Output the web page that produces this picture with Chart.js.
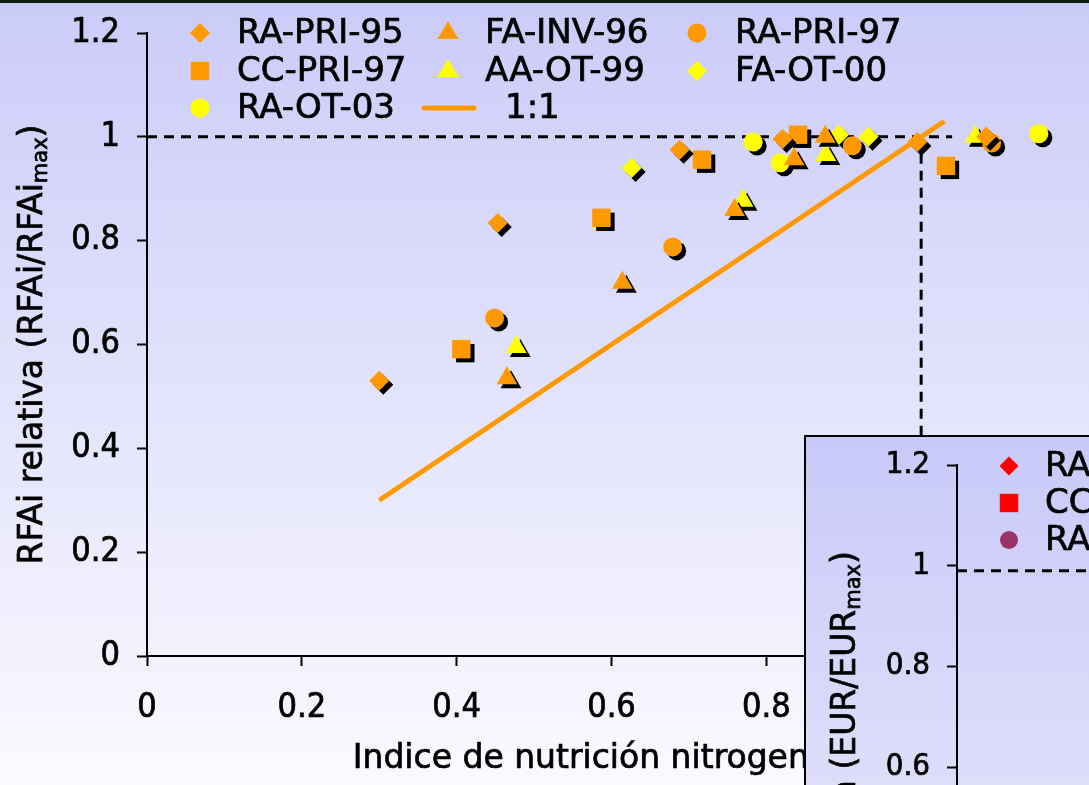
<!DOCTYPE html>
<html>
<head>
<meta charset="utf-8">
<script src="https://cdn.jsdelivr.net/npm/chart.js@4.4.0/dist/chart.umd.min.js"></script>
<style>
  html, body { margin: 0; padding: 0; overflow: hidden; }
  body { width: 1089px; height: 785px; position: relative; background: linear-gradient(#cbcbf9, #fafaff); }
  #topline { position: absolute; left: 0; top: 0; width: 1089px; height: 3px; background: #0d1f0d; }
  #main { position: absolute; left: 0; top: 0; }
  #inset-box { position: absolute; left: 804px; top: 435px; width: 420px; height: 420px; overflow: hidden;
               border-top: 2px solid #000; border-left: 2px solid #000; background: linear-gradient(#c9c9f9, #e2e2fb); }
  #inset { position: absolute; left: 0; top: 0; }
</style>
</head>
<body>
<canvas id="main" width="1089" height="785"></canvas>
<div id="topline"></div>
<div id="inset-box"><canvas id="inset" width="780" height="700"></canvas></div>
<script>
// INN vs relative RFAi, one [x, y] pair per plot
const raPri95 = [[0.300, 0.530], [0.453, 0.834], [0.688, 0.975], [0.821, 0.996], [0.995, 0.990], [1.084, 1.000]];
const faInv96 = [[0.465, 0.535], [0.614, 0.719], [0.759, 0.859], [0.836, 0.957], [0.876, 1.000]];
const raPri97 = [[0.449, 0.651], [0.679, 0.788], [0.911, 0.983], [1.091, 0.988]];
const ccPri97 = [[0.406, 0.591], [0.587, 0.844], [0.717, 0.956], [0.841, 1.004], [1.032, 0.944]];
const aaOt99 = [[0.477, 0.595], [0.770, 0.877], [0.877, 0.965], [1.070, 1.000]];
const faOt00 = [[0.626, 0.940], [0.894, 1.004], [0.932, 1.000]];
const raOt03 = [[0.783, 0.990], [0.818, 0.950], [1.152, 1.006]];
const oneToOne = [[0.30, 0.30], [1.03, 1.03]];
const refH = [[0, 1], [1.04, 1]];
const refV = [[1, 1], [1, 0]];

// second plot (relative EUR)
const eurRaPri95 = [];
const eurCcPri97 = [];
const eurRaPri97 = [];
const eurRef = [[0, 0.99], [1.04, 0.99]];

const ticksY = [0, 0.2, 0.4, 0.6, 0.8, 1, 1.2];

const ORANGE = '#ff9900';
const YELLOW = '#ffff00';
const SANS = "'DejaVu Sans', sans-serif";
const TICKFONT = "'DejaVu Sans Condensed', 'DejaVu Sans', sans-serif";
const HEAVY = 0.7; // extra stroke to thicken the text a little

const pts = arr => arr.map(p => ({x: p[0], y: p[1]}));

function markers(label, data, color, style, radius) {
    return {
        type: 'scatter', label: label, data: pts(data),
        backgroundColor: color, borderWidth: 0,
        pointStyle: style, pointRadius: radius, pointHoverRadius: radius,
        shadow: true, order: 1
    };
}

function dashed(data) {
    return {
        type: 'line', label: '', data: pts(data), borderColor: '#000', borderWidth: 3,
        borderDash: [10, 7], pointRadius: 0, fill: false, legend: false, order: 3
    };
}

function text(ctx, str, x, y) {
    ctx.fillText(str, x, y);
    ctx.strokeText(str, x, y);
}

// black offset shadow under the markers
const markerShadow = {
    id: 'markerShadow',
    beforeDatasetDraw(chart, args) {
        if (!chart.data.datasets[args.index].shadow) return;
        const ctx = chart.ctx;
        ctx.save();
        ctx.shadowColor = '#000';
        ctx.shadowOffsetX = 4;
        ctx.shadowOffsetY = 4;
        ctx.shadowBlur = 0;
    },
    afterDatasetDraw(chart, args) {
        if (chart.data.datasets[args.index].shadow) chart.ctx.restore();
    }
};

// legend laid out in a grid inside the plot area
const gridLegend = {
    id: 'gridLegend',
    afterDraw(chart, args, opts) {
        const ctx = chart.ctx;
        const items = chart.data.datasets.filter(d => d.legend !== false);
        ctx.save();
        ctx.font = opts.font;
        ctx.textBaseline = 'alphabetic';
        ctx.textAlign = 'left';
        items.forEach((d, i) => {
            const col = i % opts.cols, row = Math.floor(i / opts.cols);
            const mx = opts.markX[col], y = opts.rowY[row];
            if (d.type === 'line') {
                ctx.strokeStyle = d.borderColor;
                ctx.lineWidth = 5;
                ctx.lineCap = 'round';
                ctx.beginPath();
                ctx.moveTo(mx - 24, y);
                ctx.lineTo(mx + 26, y);
                ctx.stroke();
            } else {
                ctx.fillStyle = d.backgroundColor;
                Chart.helpers.drawPoint(ctx, {pointStyle: d.pointStyle, radius: d.pointRadius, rotation: 0, borderWidth: 0}, mx, y);
            }
            ctx.fillStyle = '#000';
            ctx.strokeStyle = '#000';
            ctx.lineWidth = HEAVY;
            text(ctx, d.label, opts.textX[col] + (d.type === 'line' ? 20 : 0), y + 10);
        });
        ctx.restore();
    }
};

// axis titles, with the "max" subscript on the y title
const axisTitles = {
    id: 'axisTitles',
    afterDraw(chart, args, opts) {
        const {ctx, chartArea} = chart;
        ctx.save();
        ctx.fillStyle = '#000';
        ctx.strokeStyle = '#000';
        ctx.lineWidth = HEAVY;
        ctx.textBaseline = 'alphabetic';
        ctx.textAlign = 'left';
        const parts = opts.y;
        ctx.font = opts.font;
        const w1 = ctx.measureText(parts[0]).width;
        const w3 = ctx.measureText(parts[2]).width;
        ctx.font = opts.subFont;
        const w2 = ctx.measureText(parts[1]).width;
        const total = w1 + w2 + w3;
        ctx.save();
        ctx.translate(opts.yTitleX, (chartArea.top + chartArea.bottom) / 2);
        ctx.rotate(-Math.PI / 2);
        let x = -total / 2;
        ctx.font = opts.font;
        text(ctx, parts[0], x, 12);
        x += w1;
        ctx.font = opts.subFont;
        text(ctx, parts[1], x, 17);
        x += w2;
        ctx.font = opts.font;
        text(ctx, parts[2], x, 12);
        ctx.restore();
        if (opts.x) {
            ctx.font = opts.font;
            ctx.textAlign = 'center';
            text(ctx, opts.x, (chartArea.left + chartArea.right) / 2, opts.xTitleY);
        }
        ctx.restore();
    }
};

function axes(tickSize, yWidth, xHeight) {
    const fmt = v => String(Math.round(v * 10) / 10);
    const tickFont = {family: TICKFONT, size: tickSize};
    return {
        x: {
            type: 'linear', min: 0, max: 1.2,
            ticks: {stepSize: 0.2, color: '#000', padding: 22, font: tickFont, callback: fmt,
                    textStrokeColor: '#000', textStrokeWidth: HEAVY},
            grid: {drawOnChartArea: false, color: '#000', tickLength: 10, tickWidth: 2},
            border: {color: '#000', width: 2},
            afterFit(s) { s.height = xHeight; s.paddingLeft = 0; s.paddingRight = 0; }
        },
        y: {
            type: 'linear', min: 0, max: 1.2,
            afterBuildTicks(s) { s.ticks = ticksY.map(v => ({value: v})); },
            ticks: {color: '#000', padding: 17, font: tickFont, callback: fmt,
                    textStrokeColor: '#000', textStrokeWidth: HEAVY},
            grid: {drawOnChartArea: false, color: '#000', tickLength: 10, tickWidth: 2},
            border: {color: '#000', width: 2},
            afterFit(s) { s.width = yWidth; s.paddingTop = 0; s.paddingBottom = 0; }
        }
    };
}

new Chart(document.getElementById('main'), {
    data: {
        datasets: [
            markers('RA-PRI-95', raPri95, ORANGE, 'rectRot', 10),
            markers('FA-INV-96', faInv96, ORANGE, 'triangle', 12),
            markers('RA-PRI-97', raPri97, ORANGE, 'circle', 9.5),
            markers('CC-PRI-97', ccPri97, ORANGE, 'rect', 13),
            markers('AA-OT-99', aaOt99, YELLOW, 'triangle', 12),
            markers('FA-OT-00', faOt00, YELLOW, 'rectRot', 10),
            markers('RA-OT-03', raOt03, YELLOW, 'circle', 9.5),
            {type: 'line', label: '1:1', data: pts(oneToOne), borderColor: ORANGE, borderWidth: 5,
             pointRadius: 0, fill: false, order: 0},
            dashed(refH),
            dashed(refV)
        ]
    },
    options: {
        responsive: false,
        animation: false,
        layout: {padding: {top: 33, right: 12, left: 0, bottom: 0}},
        scales: axes(34, 147, 129),
        plugins: {
            legend: {display: false},
            tooltip: {enabled: false},
            gridLegend: {font: '34px ' + SANS, cols: 3, markX: [200, 448, 697], textX: [237, 485, 735], rowY: [33, 71, 108]},
            axisTitles: {font: '33px ' + SANS, subFont: '21px ' + SANS, yTitleX: 30,
                         y: ['RFAi relativa (RFAi/RFAi', 'max', ')'],
                         x: 'Indice de nutrición nitrogenada', xTitleY: 768}
        }
    },
    plugins: [markerShadow, gridLegend, axisTitles]
});

new Chart(document.getElementById('inset'), {
    data: {
        datasets: [
            markers('RA-PRI-95', eurRaPri95, '#ff0000', 'rectRot', 9.5),
            markers('CC-PRI-97', eurCcPri97, '#ff0000', 'rect', 13),
            markers('RA-PRI-97', eurRaPri97, '#993366', 'circle', 9),
            dashed(eurRef)
        ]
    },
    options: {
        responsive: false,
        animation: false,
        layout: {padding: {top: 28, right: 20, left: 0, bottom: 0}},
        scales: axes(31, 151, 68),
        plugins: {
            legend: {display: false},
            tooltip: {enabled: false},
            gridLegend: {font: '34px ' + SANS, cols: 1, markX: [203], textX: [239], rowY: [29, 66, 103]},
            axisTitles: {font: '33px ' + SANS, subFont: '21px ' + SANS, yTitleX: 37,
                         y: ['EUR relativa (EUR/EUR', 'max', ')']}
        }
    },
    plugins: [markerShadow, gridLegend, axisTitles]
});
</script>
</body>
</html>
